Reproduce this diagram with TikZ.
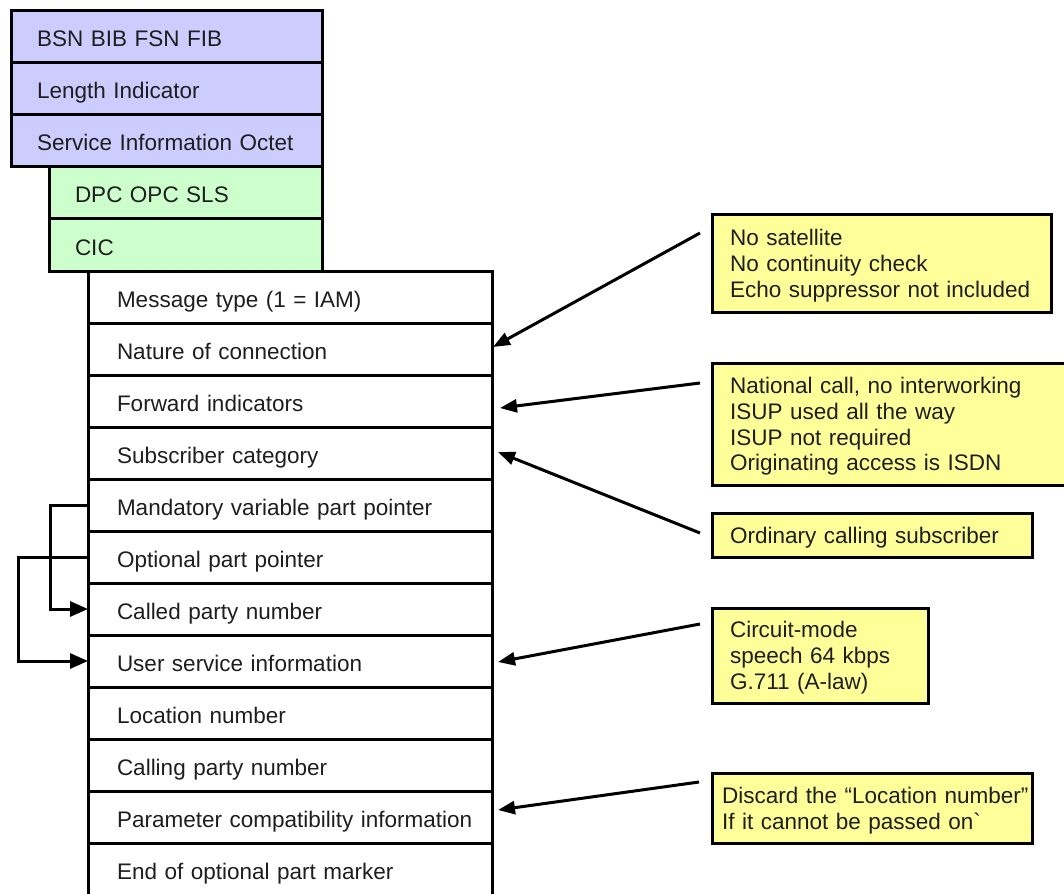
\documentclass[tikz,border=0pt]{standalone}
\usepackage{fontspec}
\setmainfont{Liberation Sans}
\usetikzlibrary{arrows.meta,calc}
\definecolor{mtpblue}{RGB}{204,204,255}
\definecolor{routegreen}{RGB}{204,255,204}
\definecolor{noteyellow}{RGB}{255,255,153}
\definecolor{ink}{RGB}{30,30,30}
% indented box text: #1 indent, #2 text (lines split by \\)
\newcommand\boxtext[2]{\leftskip=#1\relax\rule{0pt}{21pt}#2\par}

\begin{document}
\begin{tikzpicture}[x=1pt,y=-1pt,
  every node/.style={font=\fontsize{22.5}{25.7}\selectfont, text=ink},
  field/.style={draw=black, line width=3pt, anchor=north west, outer sep=0pt,
    minimum height=52pt, inner xsep=0pt, inner ysep=0pt, align=left,
    text height=21pt, text depth=1pt},
  mtpfield/.style={field, fill=mtpblue, text width=311pt},
  routefield/.style={field, fill=routegreen, text width=273pt},
  isupfield/.style={field, fill=white, text width=404pt},
  note/.style={draw=black, line width=3pt, fill=noteyellow, anchor=north west,
    outer sep=0pt, inner xsep=0pt, inner ysep=0pt, align=left},
  remark/.style={line width=3pt, -{Triangle[length=17pt,width=13pt]}},
  pointer/.style={line width=3pt, -{Triangle[length=18pt,width=15pt]}}
]
\useasboundingbox (0,0) rectangle (1064,893);
\clip (0,0) rectangle (1064,893);
\fill[white] (0,0) rectangle (1064,893);

% MTP level 2 and 3 header
\node[mtpfield] (bsn) at (11,11) {\boxtext{26pt}{BSN BIB FSN FIB}};
\node[mtpfield] (li)  at (11,63) {\boxtext{26pt}{Length Indicator}};
\node[mtpfield] (sio) at (11,115) {\boxtext{26pt}{Service Information Octet}};

% routing label and circuit code
\node[routefield] (label) at (49,167) {\boxtext{26pt}{DPC OPC SLS}};
\node[routefield] (cic)   at (49,219) {\boxtext{26pt}{CIC}};

% ISUP IAM parameters
\node[isupfield] (msgtype) at (88,271) {\boxtext{29pt}{Message type (1 = IAM)}};
\node[isupfield] (nature)  at (88,323) {\boxtext{29pt}{Nature of connection}};
\node[isupfield] (fwd)     at (88,375) {\boxtext{29pt}{Forward indicators}};
\node[isupfield] (subcat)  at (88,427) {\boxtext{29pt}{Subscriber category}};
\node[isupfield] (mandptr) at (88,479) {\boxtext{29pt}{Mandatory variable part pointer}};
\node[isupfield] (optptr)  at (88,531) {\boxtext{29pt}{Optional part pointer}};
\node[isupfield] (called)  at (88,583) {\boxtext{29pt}{Called party number}};
\node[isupfield] (usi)     at (88,635) {\boxtext{29pt}{User service information}};
\node[isupfield] (locnum)  at (88,687) {\boxtext{29pt}{Location number}};
\node[isupfield] (calling) at (88,739) {\boxtext{29pt}{Calling party number}};
\node[isupfield] (pci)     at (88,791) {\boxtext{29pt}{Parameter compatibility information}};
\node[isupfield] (eop)     at (88,843) {\boxtext{29pt}{End of optional part marker}};

% pointers into the variable parts
\draw[pointer] (mandptr.west) -- ++(-38,0) |- (called.west);
\draw[pointer] (optptr.west) -- ++(-70,0) |- (usi.west);

% explanatory notes
\node[note, text width=339pt, minimum height=97pt] (n1) at (712,215)
  {\boxtext{18pt}{No satellite\\No continuity check\\Echo suppressor not included}};
\node[note, text width=370pt, minimum height=122pt] (n2) at (712,363)
  {\boxtext{18pt}{National call, no interworking\\ISUP used all the way\\ISUP not required\\Originating access is ISDN}};
\node[note, text width=320pt, minimum height=44pt] (n3) at (712,513)
  {\boxtext{18pt}{Ordinary calling subscriber}};
\node[note, text width=216pt, minimum height=95pt] (n4) at (712,608)
  {\boxtext{18pt}{Circuit-mode\\speech 64 kbps\\G.711 (A-law)}};
\node[note, text width=320pt, minimum height=70pt] (n5) at (712,773)
  {\boxtext{10pt}{Discard the “Location number”\\If it cannot be passed on\textasciigrave}};

\draw[remark] ($(n1.north west)+(-12,18)$) -- ($(nature.east)+(1,-2)$);
\draw[remark] ($(n2.north west)+(-12,20)$) -- ($(fwd.east)+(8,7)$);
\draw[remark] ($(n3.north west)+(-12,20)$) -- ($(subcat.east)+(6,-1)$);
\draw[remark] ($(n4.north west)+(-12,16)$) -- ($(usi.east)+(6,1)$);
\draw[remark] ($(n5.north west)+(-13,9)$) -- ($(pci.east)+(6,-7)$);
\end{tikzpicture}
\end{document}
